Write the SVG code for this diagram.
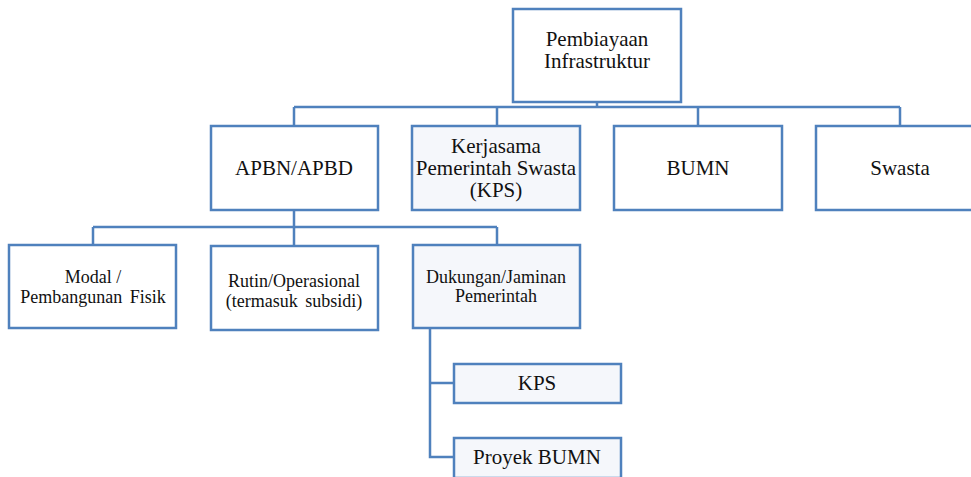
<svg xmlns="http://www.w3.org/2000/svg" width="971" height="477" viewBox="0 0 971 477">
<style>
.box{fill:#ffffff;stroke:#4f81bd;stroke-width:2.5}
.shade{fill:#f5f7fb}
.ln{fill:none;stroke:#4f81bd;stroke-width:2.5}
text{font-family:'Liberation Serif',serif;fill:#111;text-anchor:middle}
.big{font-size:21px}
.sm{font-size:18px}
</style>
<rect width="971" height="477" fill="#ffffff"/>
<g id="connectors">
<path class="ln" d="M597,102 V107 M294,107 H900 M294,107 V126 M497,107 V126 M698,107 V126 M900,107 V126"/>
<path class="ln" d="M294,210 V227 M93,227 H497 M93,227 V245 M294,227 V246 M497,227 V245"/>
<path class="ln" d="M430,329 V457 H454 M430,383 H454"/>
</g>
<g font-family="Liberation Serif, serif">
<g id="n-root"><rect class="box" x="513" y="9" width="168" height="93"/><text class="big" x="597" y="46">Pembiayaan</text><text class="big" x="597" y="68">Infrastruktur</text></g>
<g id="n-apbn"><rect class="box" x="211" y="126" width="167" height="84"/><text class="big" x="294" y="175">APBN/APBD</text></g>
<g id="n-kps"><rect class="box shade" x="412" y="126" width="168" height="84"/><text class="big" x="496" y="153">Kerjasama</text><text class="big" x="496" y="175">Pemerintah Swasta</text><text class="big" x="496" y="197">(KPS)</text></g>
<g id="n-bumn"><rect class="box" x="614" y="126" width="168" height="84"/><text class="big" x="698" y="175">BUMN</text></g>
<g id="n-swasta"><rect class="box" x="816" y="126" width="168" height="84"/><text class="big" x="900" y="175">Swasta</text></g>
<g id="n-modal"><rect class="box" x="9" y="245" width="167" height="83"/><text class="sm" x="93" y="283">Modal /</text><text class="sm" x="93" y="303" word-spacing="3">Pembangunan Fisik</text></g>
<g id="n-rutin"><rect class="box" x="211" y="246" width="167" height="84"/><text class="sm" x="294" y="287">Rutin/Operasional</text><text class="sm" x="294" y="307" word-spacing="3">(termasuk subsidi)</text></g>
<g id="n-dukungan"><rect class="box shade" x="413" y="245" width="167" height="83"/><text class="sm" x="496" y="283">Dukungan/Jaminan</text><text class="sm" x="496" y="302">Pemerintah</text></g>
<g id="n-kps2"><rect class="box shade" x="454" y="364" width="167" height="39"/><text class="big" x="537" y="390">KPS</text></g>
<g id="n-proyek"><rect class="box shade" x="454" y="438" width="167" height="40"/><text class="big" x="537" y="464">Proyek BUMN</text></g>
</g>
</svg>
